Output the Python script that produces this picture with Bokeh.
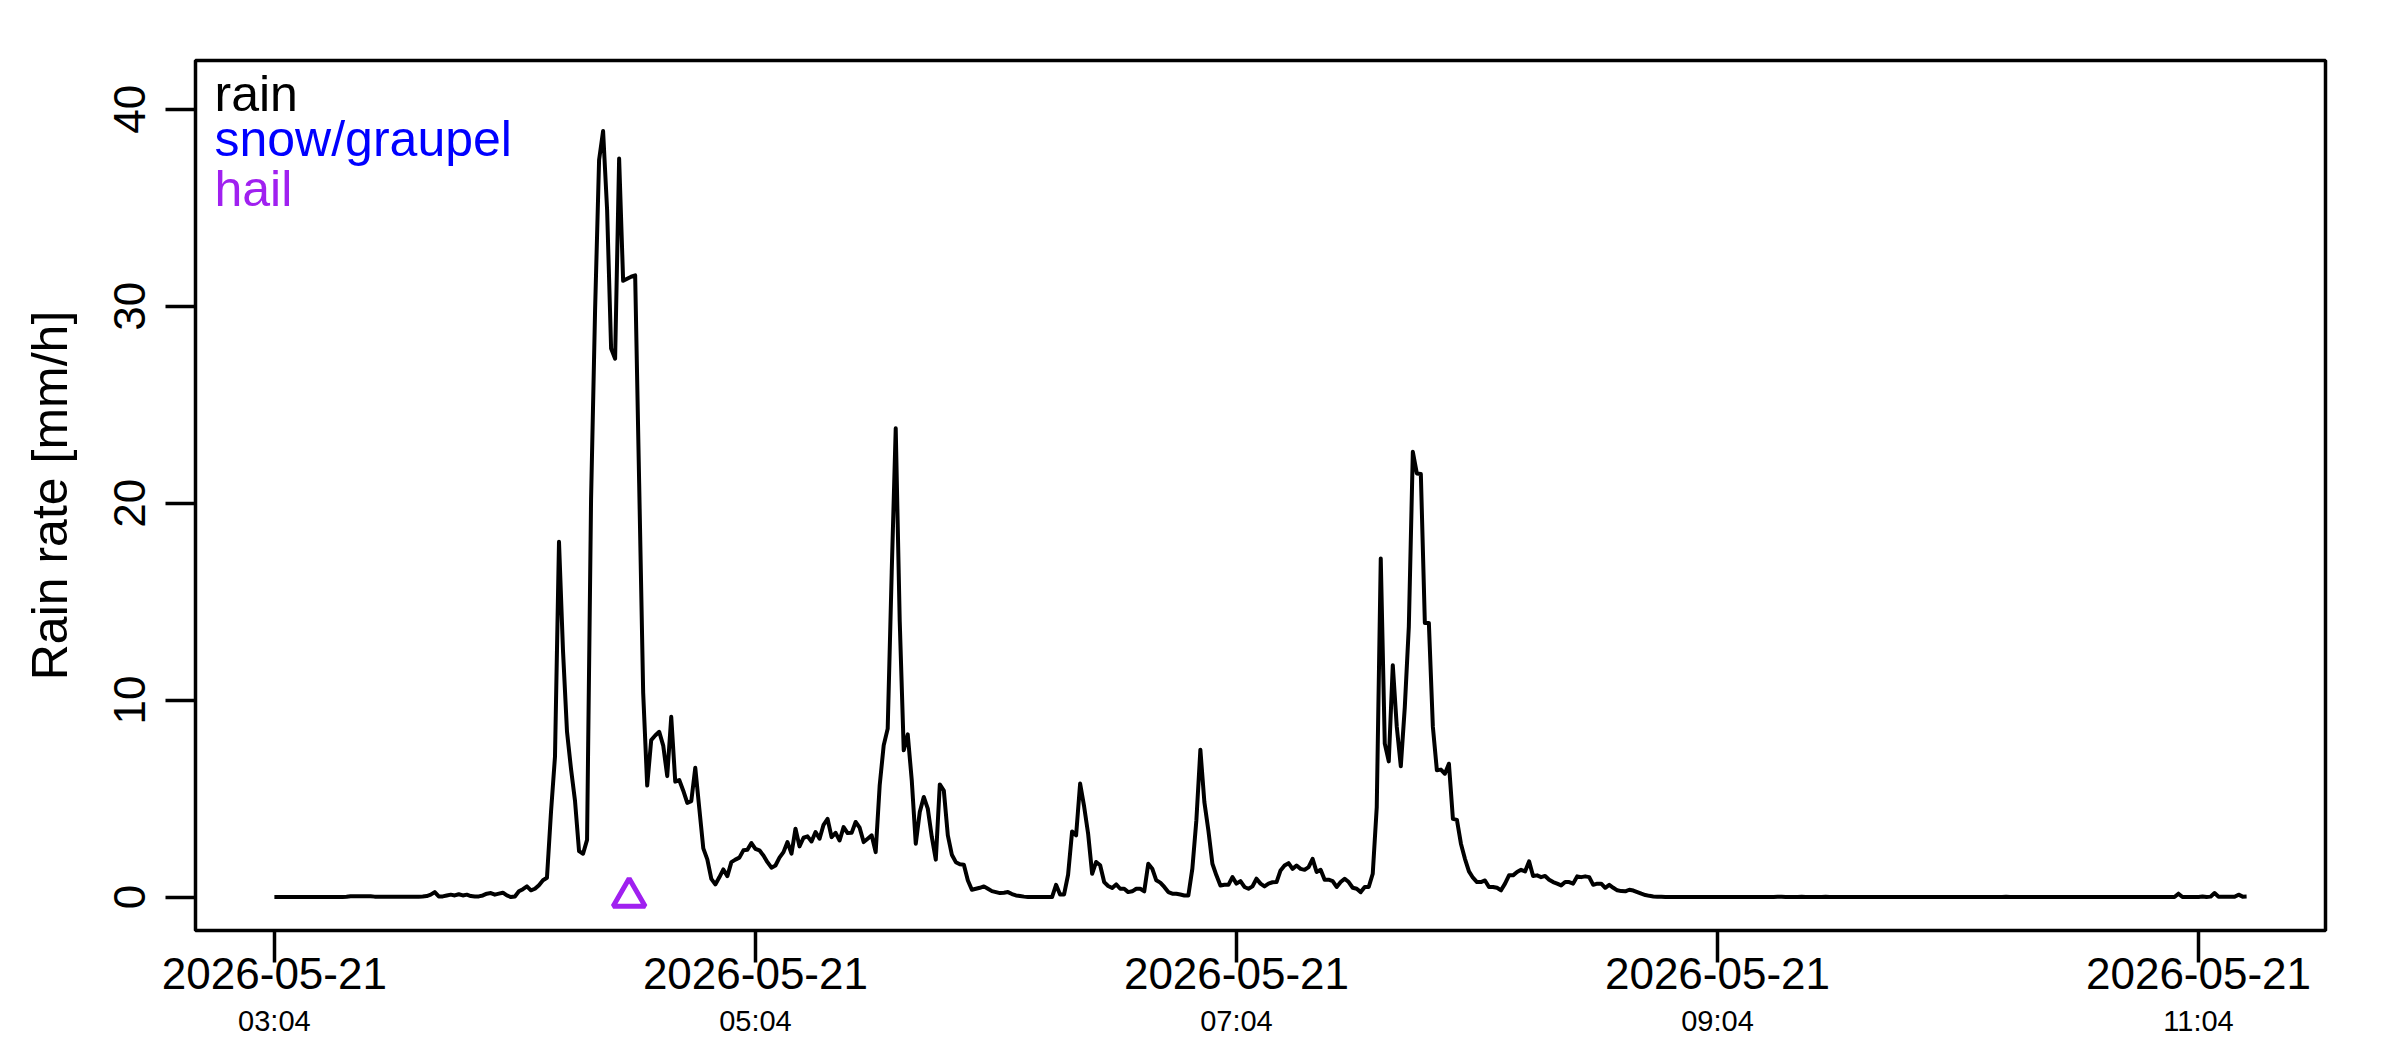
import pandas as pd
from bokeh.plotting import figure
from bokeh.models import (Range1d, FixedTicker, DatetimeTickFormatter, DatetimeAxis,
                          Label, ColumnDataSource)
from bokeh.embed import file_html
from bokeh.resources import INLINE

# ---------------- data ----------------
start_time = "2026-05-21 03:04"
# rain rate [mm/h], one value per minute from 03:04
rain_rate = [
    0.00, 0.00, 0.00, 0.00, 0.00, 0.00, 0.00, 0.00, 0.00, 0.00,
    0.00, 0.00, 0.00, 0.00, 0.00, 0.00, 0.00, 0.00, 0.01, 0.04,
    0.04, 0.04, 0.04, 0.04, 0.04, 0.02, 0.02, 0.02, 0.02, 0.02,
    0.02, 0.02, 0.02, 0.02, 0.02, 0.01, 0.02, 0.03, 0.05, 0.12,
    0.25, 0.03, 0.03, 0.08, 0.12, 0.08, 0.14, 0.08, 0.12, 0.05,
    0.03, 0.03, 0.08, 0.17, 0.20, 0.12, 0.17, 0.22, 0.08, 0.00,
    0.03, 0.29, 0.40, 0.54, 0.34, 0.42, 0.60, 0.85, 0.98, 4.30,
    7.13, 18.04, 12.50, 8.39, 6.50, 4.87, 2.33, 2.20, 2.90, 20.20,
    29.80, 37.43, 38.90, 34.90, 27.85, 27.34, 37.50, 31.29, 31.40, 31.50,
    31.57, 21.00, 10.37, 5.66, 7.97, 8.20, 8.39, 7.69, 6.14, 9.15,
    5.86, 5.94, 5.40, 4.78, 4.87, 6.56, 4.50, 2.47, 1.91, 0.92,
    0.64, 1.00, 1.40, 1.06, 1.77, 1.90, 2.00, 2.37, 2.40, 2.74,
    2.45, 2.37, 2.11, 1.77, 1.49, 1.60, 2.00, 2.28, 2.79, 2.20,
    3.47, 2.57, 3.01, 3.08, 2.82, 3.30, 2.96, 3.67, 3.97, 3.04,
    3.26, 2.87, 3.55, 3.25, 3.26, 3.81, 3.52, 2.79, 2.96, 3.13,
    2.28, 5.67, 7.70, 8.55, 16.50, 23.80, 14.00, 7.45, 8.26, 5.93,
    2.71, 4.32, 5.08, 4.49, 3.05, 1.90, 5.72, 5.41, 3.13, 2.15,
    1.77, 1.66, 1.64, 0.84, 0.37, 0.42, 0.47, 0.54, 0.42, 0.30,
    0.25, 0.20, 0.22, 0.25, 0.15, 0.08, 0.05, 0.02, 0.00, 0.00,
    0.00, 0.00, 0.00, 0.00, 0.00, 0.62, 0.13, 0.13, 1.13, 3.33,
    3.13, 5.76, 4.60, 3.21, 1.18, 1.78, 1.61, 0.76, 0.56, 0.46,
    0.64, 0.42, 0.42, 0.25, 0.29, 0.42, 0.42, 0.29, 1.69, 1.44,
    0.85, 0.73, 0.51, 0.25, 0.17, 0.17, 0.13, 0.08, 0.08, 1.44,
    3.89, 7.48, 4.82, 3.38, 1.69, 1.10, 0.59, 0.62, 0.62, 1.01,
    0.68, 0.81, 0.51, 0.42, 0.54, 0.93, 0.68, 0.54, 0.68, 0.75,
    0.76, 1.35, 1.60, 1.72, 1.43, 1.60, 1.43, 1.38, 1.52, 1.94,
    1.27, 1.38, 0.88, 0.88, 0.81, 0.51, 0.76, 0.93, 0.76, 0.47,
    0.42, 0.25, 0.51, 0.51, 1.18, 4.57, 17.19, 7.79, 6.89, 11.77,
    8.64, 6.64, 9.65, 13.72, 22.61, 21.51, 21.48, 13.92, 13.92, 8.64,
    6.44, 6.47, 6.26, 6.77, 3.97, 3.92, 2.71, 1.94, 1.30, 0.98,
    0.76, 0.76, 0.84, 0.51, 0.51, 0.47, 0.34, 0.68, 1.10, 1.10,
    1.27, 1.38, 1.30, 1.81, 1.07, 1.10, 1.01, 1.07, 0.88, 0.76,
    0.68, 0.59, 0.76, 0.76, 0.68, 1.05, 1.01, 1.05, 1.01, 0.62,
    0.68, 0.68, 0.47, 0.62, 0.47, 0.34, 0.30, 0.29, 0.37, 0.33,
    0.25, 0.17, 0.10, 0.06, 0.03, 0.02, 0.01, 0.00, 0.00, 0.00,
    0.00, 0.00, 0.00, 0.00, 0.00, 0.00, 0.00, 0.00, 0.00, 0.00,
    0.00, 0.00, 0.00, 0.00, 0.00, 0.00, 0.00, 0.00, 0.00, 0.00,
    0.00, 0.00, 0.00, 0.00, 0.00, 0.01, 0.01, 0.00, 0.00, 0.00,
    0.00, 0.01, 0.00, 0.00, 0.00, 0.00, 0.00, 0.01, 0.00, 0.00,
    0.00, 0.00, 0.00, 0.00, 0.00, 0.00, 0.00, 0.00, 0.00, 0.00,
    0.00, 0.00, 0.00, 0.00, 0.00, 0.00, 0.00, 0.00, 0.00, 0.00,
    0.00, 0.00, 0.00, 0.00, 0.00, 0.00, 0.00, 0.00, 0.00, 0.00,
    0.00, 0.00, 0.00, 0.00, 0.00, 0.00, 0.00, 0.00, 0.00, 0.00,
    0.00, 0.00, 0.01, 0.00, 0.00, 0.00, 0.00, 0.00, 0.00, 0.00,
    0.00, 0.00, 0.00, 0.00, 0.00, 0.00, 0.00, 0.00, 0.00, 0.00,
    0.00, 0.00, 0.00, 0.00, 0.00, 0.00, 0.00, 0.00, 0.00, 0.00,
    0.00, 0.00, 0.00, 0.00, 0.00, 0.00, 0.00, 0.00, 0.00, 0.00,
    0.00, 0.00, 0.00, 0.00, 0.00, 0.17, 0.00, 0.00, 0.00, 0.00,
    0.00, 0.03, 0.00, 0.02, 0.20, 0.02, 0.01, 0.01, 0.01, 0.01,
    0.12, 0.02, 0.03,
]
hail_times = ["2026-05-21 04:32:30"]
hail_values = [0.0]

tick_times = ["2026-05-21 03:04", "2026-05-21 05:04", "2026-05-21 07:04",
              "2026-05-21 09:04", "2026-05-21 11:04"]
y_ticks = [0, 10, 20, 30, 40]

legend_labels = ["rain", "snow/graupel", "hail"]
legend_colors = ["black", "blue", "#A020F0"]
legend_y = [40.8, 38.5, 35.95]

# ---------------- build ----------------
FONT = "Liberation Sans"
t0 = pd.Timestamp(start_time)
times = t0 + pd.to_timedelta(list(range(len(rain_rate))), unit="min")
src = ColumnDataSource(dict(t=times, rate=rain_rate))
hail_src = ColumnDataSource(dict(t=pd.to_datetime(hail_times), v=hail_values))

span = times[-1] - times[0]
x_start = times[0] - 0.04 * span
x_end = times[-1] + 0.04 * span

p = figure(width=2400, height=1050, x_axis_type="datetime",
           x_range=Range1d(x_start, x_end), y_range=Range1d(-1.70, 42.48),
           output_backend="svg", toolbar_location=None,
           min_border_left=195, min_border_right=75,
           min_border_top=60, min_border_bottom=120)
p.grid.visible = False
p.outline_line_color = "black"
p.outline_line_width = 3.5
p.background_fill_color = "white"
p.border_fill_color = "white"

tick_ms = [pd.Timestamp(t).value // 10**6 for t in tick_times]

def fmt(f):
    return DatetimeTickFormatter(microseconds=f, milliseconds=f, seconds=f, minsec=f,
                                 minutes=f, hourmin=f, hours=f, days=f, months=f, years=f)

ax = p.xaxis[0]
ax.ticker = FixedTicker(ticks=tick_ms)
ax.formatter = fmt("%Y-%m-%d")
ax.axis_line_color = None
ax.major_tick_out = 32
ax.major_tick_in = 0
ax.major_tick_line_width = 3.5
ax.minor_tick_line_color = None
ax.major_label_text_font = FONT
ax.major_label_text_font_size = "44px"
ax.major_label_text_color = "black"
ax.major_label_standoff = -5

ax2 = DatetimeAxis(ticker=FixedTicker(ticks=tick_ms), formatter=fmt("%H:%M"))
ax2.axis_line_color = None
ax2.major_tick_line_color = None
ax2.minor_tick_line_color = None
ax2.major_tick_out = 0
ax2.major_tick_in = 0
ax2.major_label_text_font = FONT
ax2.major_label_text_font_size = "29px"
ax2.major_label_text_color = "black"
ax2.major_label_standoff = 13
p.add_layout(ax2, "below")

ay = p.yaxis[0]
ay.ticker = FixedTicker(ticks=y_ticks)
ay.axis_line_color = None
ay.major_tick_out = 30
ay.major_tick_in = 0
ay.major_tick_line_width = 3.5
ay.minor_tick_line_color = None
ay.major_label_orientation = "vertical"
ay.major_label_text_font = FONT
ay.major_label_text_font_size = "44px"
ay.major_label_text_color = "black"
ay.major_label_standoff = 20
ay.axis_label = "Rain rate [mm/h]"
ay.axis_label_text_font = FONT
ay.axis_label_text_font_size = "50px"
ay.axis_label_text_font_style = "normal"
ay.axis_label_text_color = "black"
ay.axis_label_standoff = 34

p.line("t", "rate", source=src, line_color="black", line_width=4, line_join="round")
p.scatter("t", "v", source=hail_src, marker="triangle", size=32,
          fill_color=None, line_color="#A020F0", line_width=5)

legend_x = x_start + (x_end - x_start) * (19.0 / 2130.0)
for lab, col, yy in zip(legend_labels, legend_colors, legend_y):
    p.add_layout(Label(x=legend_x, y=yy, text=lab, text_color=col,
                       text_font=FONT, text_font_size="50px",
                       text_baseline="alphabetic", text_align="left"))

open("out.html", "w").write(file_html(p, INLINE))
